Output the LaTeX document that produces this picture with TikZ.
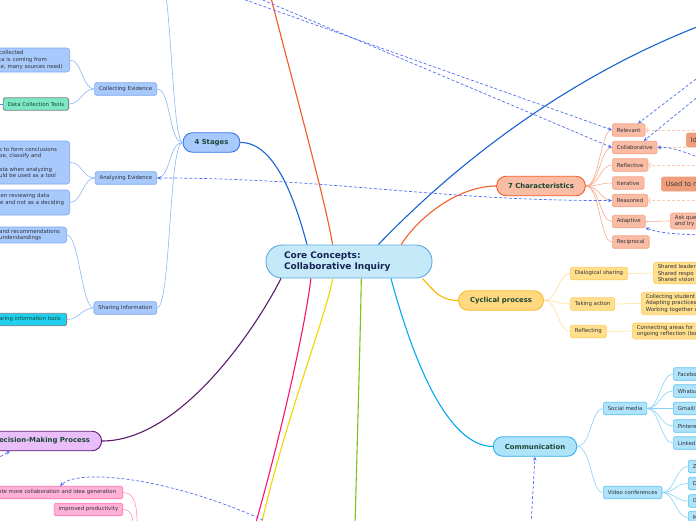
\documentclass[tikz,border=0pt]{standalone}
\usepackage{fontspec}
\setmainfont{DejaVu Sans}
\usetikzlibrary{arrows.meta}
\definecolor{hubfill}{RGB}{198,233,250}
\definecolor{hubdraw}{RGB}{90,170,225}
\definecolor{hubtext}{RGB}{22,36,84}
\definecolor{topictext}{RGB}{24,72,52}
\definecolor{subtext}{RGB}{50,50,60}
\definecolor{stageblue}{RGB}{24,100,210}
\definecolor{stagefill}{RGB}{168,201,251}
\definecolor{stagedraw}{RGB}{50,115,230}
\definecolor{stageedge}{RGB}{125,168,243}
\definecolor{stageline}{RGB}{140,182,247}
\definecolor{mintbox}{RGB}{125,232,198}
\definecolor{cyanbox}{RGB}{30,208,238}
\definecolor{toolgray}{RGB}{130,130,130}
\definecolor{upred}{RGB}{245,88,35}
\definecolor{charorange}{RGB}{245,95,40}
\definecolor{charfill}{RGB}{249,188,164}
\definecolor{charedge}{RGB}{246,160,132}
\definecolor{charline}{RGB}{248,170,140}
\definecolor{chardark}{RGB}{238,158,122}
\definecolor{peach}{RGB}{249,200,178}
\definecolor{cycamber}{RGB}{255,180,0}
\definecolor{cycfill}{RGB}{255,216,128}
\definecolor{cycdraw}{RGB}{246,190,46}
\definecolor{cycleaf}{RGB}{255,222,140}
\definecolor{cycedge}{RGB}{255,206,100}
\definecolor{cycline}{RGB}{255,224,150}
\definecolor{comblue}{RGB}{3,169,244}
\definecolor{comfill}{RGB}{174,227,250}
\definecolor{comdraw}{RGB}{46,179,242}
\definecolor{comedge}{RGB}{92,195,242}
\definecolor{comline}{RGB}{134,211,247}
\definecolor{greenbranch}{RGB}{130,190,30}
\definecolor{yellowbranch}{RGB}{240,215,0}
\definecolor{pinkbranch}{RGB}{250,20,110}
\definecolor{decpurple}{RGB}{92,26,110}
\definecolor{decfill}{RGB}{234,191,249}
\definecolor{pinkfill}{RGB}{255,177,214}
\definecolor{pinkedge}{RGB}{255,111,181}
\definecolor{pinkline}{RGB}{255,140,198}
\definecolor{linkblue}{RGB}{80,110,245}
\newcommand\mapsmall{\fontsize{5.4}{6.7}\selectfont}
\newcommand\mapnote{\fontsize{6.6}{8}\selectfont}
\newcommand\maptopic{\fontsize{6.9}{8.3}\selectfont\bfseries}
\newcommand\maphub{\fontsize{9}{11}\selectfont\bfseries}

\begin{document}
\begin{tikzpicture}[x=1pt, y=-1pt,
    hub/.style={rectangle, rounded corners=16pt, draw=hubdraw, fill=hubfill, line width=0.9pt,
                text width=130pt, align=left, inner xsep=18pt, minimum height=33pt,
                font=\maphub, text=hubtext},
    topic/.style={rectangle, rounded corners=9.5pt, line width=0.9pt, minimum height=19.5pt,
                  inner xsep=11.5pt, font=\maptopic, text=topictext},
    sub/.style={rectangle, rounded corners=1.5pt, line width=0.6pt, minimum height=12.5pt,
                inner xsep=4.5pt, inner ysep=1pt, font=\mapsmall, text=subtext},
    note/.style={sub, align=left, inner ysep=2pt, rounded corners=3pt},
    tool/.style={sub, draw=toolgray, line width=0.8pt, text=topictext},
    branch/.style={line width=1.1pt},
    wire/.style={line width=0.6pt},
    link/.style={draw=linkblue, line width=0.7pt, dash pattern=on 3pt off 2pt,
                 -{Stealth[length=4pt,width=3.5pt]}},
    peachlink/.style={draw=peach, line width=0.9pt, dash pattern=on 3pt off 2pt,
                      -{Straight Barb[length=2pt,width=5pt]}}
]
    \useasboundingbox (0,0) rectangle (696,520);
    \clip (0,0) rectangle (696,520);
    \fill[white] (0,0) rectangle (696,520);

    \node[hub] (hub) at (349,261.5) {Core Concepts:\\Collaborative Inquiry};

    % 4 stages
    \node[topic, fill=stagefill, draw=stagedraw] (stages) at (211.5,142.5) {4 Stages};
    \node[sub, fill=stagefill, draw=stageedge, anchor=east] (collect) at (157,89) {Collecting Evidence};
    \node[sub, fill=stagefill, draw=stageedge, anchor=east] (analyse) at (157,178) {Analyzing Evidence};
    \node[sub, fill=stagefill, draw=stageedge, anchor=east] (share) at (157,308) {Sharing Information};
    \node[note, fill=stagefill, draw=stageedge, anchor=east, text width=66pt, minimum height=24pt] (collectnote) at (70,60)
        {collected\\ta is coming from\\le, many sources need)};
    \node[tool, fill=mintbox, anchor=east] (colltools) at (69,104) {Data Collection Tools};
    \node[note, fill=stagefill, draw=stageedge, anchor=east, text width=66pt, minimum height=43pt] (analysenote) at (70,162.5)
        {s to form conclusions\\pe, classify and\\[6.7pt]ata when analyzing\\uld be used as a tool};
    \node[note, fill=stagefill, draw=stageedge, anchor=east, text width=68pt, minimum height=25pt] (reviewnote) at (70,202.5)
        {hen reviewing data\\ce and not as a deciding\\\mbox{}};
    \node[note, fill=stagefill, draw=stageedge, anchor=east, text width=63pt] (sharenote) at (67,235)
        {and recommendations\\understandings};
    \node[tool, fill=cyanbox, anchor=east, text width=63pt, align=left] (sharetools) at (67,319.5) {aring information tools};

    \coordinate (stagesup) at (166,-4);
    \coordinate (toolsout) at (-4,104);
    \draw[wire, draw=stageline] (stages.west) .. controls (174,142) and (172,40) .. (stagesup);
    \foreach \c in {collect,analyse,share}
        \draw[wire, draw=stageline] (stages.west) .. controls +(-14,0) and +(14,0) .. (\c.east);
    \foreach \a/\b in {collect/collectnote, collect/colltools, analyse/analysenote, analyse/reviewnote,
                       share/sharenote, share/sharetools}
        \draw[wire, draw=stageline] (\a.west) .. controls +(-12,0) and +(12,0) .. (\b.east);
    \draw[wire, draw=stageblue!70] (colltools.west) -- (toolsout);

    % 7 characteristics
    \node[topic, fill=charfill, draw=charorange] (chars) at (541,186) {7 Characteristics};
    \foreach \n/\y/\t in {rel/130/Relevant, colb/147.5/Collaborative, refl/165/Reflective, iter/183/Iterative,
                          reas/200.5/Reasoned, adap/221.5/Adaptive, reci/242/Reciprocal}
        \node[sub, fill=charfill, draw=charedge, anchor=west] (\n) at (612,\y) {\t};
    \node[sub, fill=chardark, draw=chardark, font=\mapnote, minimum height=14pt, text width=40pt, align=left, anchor=west] (idea) at (686,140) {Id};
    \node[sub, fill=chardark, draw=chardark, font=\mapnote, minimum height=14pt, text width=50pt, align=left, anchor=west] (usedto) at (661,184) {Used to m};
    \node[note, fill=charfill, draw=charedge, text width=40pt, anchor=west] (askq) at (670,221) {Ask que\\and try};

    \foreach \c in {rel,colb,refl,iter,reas,adap,reci}
        \draw[wire, draw=charline] (chars.east) .. controls +(14,0) and +(-12,0) .. (\c.west);
    \draw[wire, draw=charline] (adap.east) -- (askq.west);

    \coordinate (pr1) at (700,130);
    \coordinate (pr2) at (686,147.5);
    \coordinate (pr3) at (700,165);
    \coordinate (pr4) at (700,200.5);
    \draw[peachlink] (pr1) -- (rel.east);
    \draw[peachlink] (pr2) -- (colb.east);
    \draw[peachlink] (pr3) -- (refl.east);
    \draw[peachlink] (pr4) -- (reas.east);

    % cyclical process
    \node[topic, fill=cycfill, draw=cycdraw] (cycle) at (501,300.5) {Cyclical process};
    \node[sub, fill=cycleaf, draw=cycedge, anchor=west] (dialog) at (570,273.5) {Dialogical sharing};
    \node[sub, fill=cycleaf, draw=cycedge, anchor=west] (action) at (570,304) {Taking action};
    \node[sub, fill=cycleaf, draw=cycedge, anchor=west] (reflect) at (570,331.5) {Reflecting};
    \node[note, fill=cycleaf, draw=cycedge, text width=60pt, anchor=west] (shared) at (653,273)
        {Shared leader\\Shared respo\\Shared vision};
    \node[note, fill=cycleaf, draw=cycedge, text width=70pt, anchor=west] (practice) at (641,303.5)
        {Collecting student\\Adapting practices\\Working together w};
    \node[note, fill=cycleaf, draw=cycedge, text width=80pt, anchor=west] (connect) at (632,331)
        {Connecting areas for\\ongoing reflection (bo};
    \foreach \c in {dialog,action,reflect}
        \draw[wire, draw=cycline] (cycle.east) .. controls +(14,0) and +(-12,0) .. (\c.west);
    \draw[wire, draw=cycline] (dialog.east) -- (shared.west);
    \draw[wire, draw=cycline] (action.east) -- (practice.west);
    \draw[wire, draw=cycline] (reflect.east) -- (connect.west);

    % communication
    \node[topic, fill=comfill, draw=comdraw] (comm) at (535,446.5) {Communication};
    \node[sub, fill=comfill, draw=comedge, anchor=west] (social) at (603,408.5) {Social media};
    \node[sub, fill=comfill, draw=comedge, anchor=west] (video) at (603,492.5) {Video conferences};
    \foreach \n/\y/\t in {fb/374/Facebo, wa/391/Whatsa, gm/408.5/{Gmail/}, pin/426/Pintere, li/443/Linked}
        \node[sub, fill=comfill, draw=comedge, text width=30pt, align=left, anchor=west] (\n) at (673,\y) {\t};
    \foreach \n/\y/\t in {zo/466.5/Z, du/483.5/D, go/501/G, ms/517.5/M}
        \node[sub, fill=comfill, draw=comedge, text width=20pt, align=left, anchor=west] (\n) at (688,\y) {\t};
    \foreach \c in {social,video}
        \draw[wire, draw=comline] (comm.east) .. controls +(14,0) and +(-12,0) .. (\c.west);
    \foreach \c in {fb,wa,gm,pin,li}
        \draw[wire, draw=comline] (social.east) .. controls +(12,0) and +(-12,0) .. (\c.west);
    \foreach \c in {zo,du,go,ms}
        \draw[wire, draw=comline] (video.east) .. controls +(12,0) and +(-12,0) .. (\c.west);

    % decision-making and its neighbours
    \node[topic, fill=decfill, draw=decpurple, anchor=east, text width=91pt, align=left] (decide) at (102,441) {ecision-Making Process};
    \node[sub, fill=pinkfill, draw=pinkedge, anchor=east, text width=120pt, align=left] (promote) at (123,492.5)
        {ote more collaboration and idea generation};
    \node[sub, fill=pinkfill, draw=pinkedge, anchor=east] (product) at (123,509.5) {improved productivity};
    \coordinate (pinkA) at (137,524);
    \coordinate (pinkB) at (133,524);
    \draw[wire, draw=pinkline] (promote.east) .. controls +(12,0) and +(0,-18) .. (pinkA);
    \draw[wire, draw=pinkline] (product.east) .. controls +(8,0) and +(0,-8) .. (pinkB);

    % main branches
    \coordinate (upA) at (270,-6);
    \coordinate (upB) at (702,25);
    \coordinate (downG) at (355,526);
    \coordinate (downY) at (261,526);
    \coordinate (downP) at (255,526);
    \draw[branch, draw=stageblue] (hub.158) .. controls (295,200) and (275,142) .. (stages.east);
    \draw[branch, draw=upred] (hub.134) .. controls (325,200) and (300,110) .. (upA);
    \draw[branch, draw=stageblue] (hub.30) .. controls (450,170) and (560,80) .. (upB);
    \draw[branch, draw=charorange] (hub.18) .. controls (420,215) and (460,186) .. (chars.west);
    \draw[branch, draw=cycamber] (hub.-13) .. controls (435,292) and (440,300) .. (cycle.west);
    \draw[branch, draw=comblue] (hub.-22) .. controls (405,330) and (440,446) .. (comm.west);
    \draw[branch, draw=greenbranch] (hub.-54) .. controls (360,350) and (357,450) .. (downG);
    \draw[branch, draw=yellowbranch] (hub.-134) .. controls (328,310) and (285,420) .. (downY);
    \draw[branch, draw=pinkbranch] (hub.-156.5) .. controls (306,320) and (285,420) .. (downP);
    \draw[branch, draw=decpurple] (hub.-166.5) .. controls (255,330) and (180,441) .. (decide.east);

    % cross links
    \coordinate (lkA) at (240,-2);
    \coordinate (lkB) at (258,-2);
    \coordinate (lkC) at (700,76);
    \coordinate (lkD) at (700,95);
    \coordinate (lkE) at (700,158);
    \coordinate (lkF) at (700,235);
    \coordinate (lkG) at (531,524);
    \coordinate (lkH) at (263,520);
    \coordinate (lkI) at (-4,459);
    \draw[link] (lkA) -- (rel.west);
    \draw[link] (lkB) -- (colb.west);
    \draw[link] (lkC) -- (rel.35);
    \draw[link] (lkD) -- (colb.36);
    \draw[link] (lkE) .. controls (680,150) and (670,147) .. (colb.east);
    \draw[link] (lkF) .. controls (670,234) and (655,232) .. (adap.-20);
    \draw[link, {Stealth[length=4pt,width=3.5pt]}-{Stealth[length=4pt,width=3.5pt]}]
        (analyse.east) .. controls (330,178) and (440,201) .. (reas.west);
    \draw[link] (lkG) -- (comm.south);
    \draw[link] (lkH) .. controls (170,478) and (80,468) .. ([xshift=-63pt]promote.north east);
    \draw[link] (lkI) -- ([xshift=-92pt]decide.south east);
\end{tikzpicture}
\end{document}
